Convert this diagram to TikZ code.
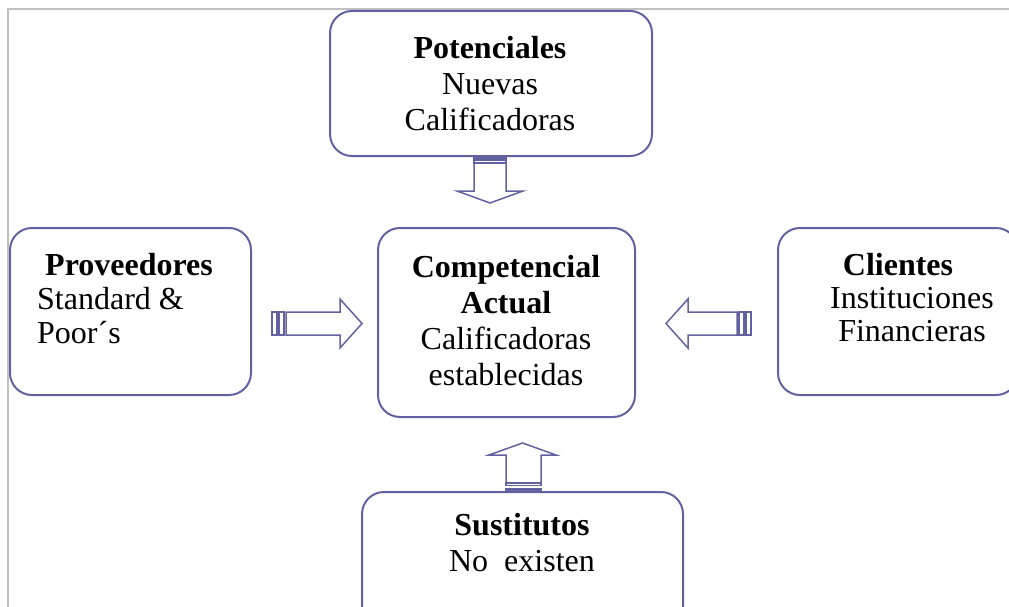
\documentclass[tikz,border=0pt]{standalone}
\usepackage{fontspec}
\setmainfont{Liberation Serif}
\usepackage{tikz}
\definecolor{borde}{RGB}{98,98,162}
\definecolor{marcogris}{RGB}{192,192,192}

\begin{document}
\begin{tikzpicture}[x=1pt, y=-1pt,
  caja/.style = {draw = borde, line width = 2pt, rounded corners = 22pt, inner sep = 0pt},
  texto/.style = {inner sep = 0pt, font = \fontsize{32}{36}\selectfont},
  bloque/.style = {draw = borde, line width = 1.5pt, line join = miter}]
\clip (0,0) rectangle (1009,607);
\draw[marcogris, line width = 2pt] (8,9) rectangle (1040,640);
\node[caja, minimum width = 322pt, minimum height = 145pt] (pot) at (491,83.5) {};
\node[caja, minimum width = 241pt, minimum height = 167pt] (prov) at (130.5,311.5) {};
\node[caja, minimum width = 257pt, minimum height = 189pt] (comp) at (506.5,322.5) {};
\node[caja, minimum width = 240pt, minimum height = 167pt] (cli) at (898,311.5) {};
\node[caja, minimum width = 321pt, minimum height = 148pt] (sus) at (522.5,566) {};
\node[texto, align = center, anchor = north] (potT) at (490,36) {\textbf{Potenciales}\\Nuevas\\Calificadoras};
\node[texto, align = left, anchor = north west, font = \fontsize{32}{34}\selectfont] (provT) at (37,253) {\hspace*{8pt}\textbf{Proveedores}\\Standard \&\\Poor´s};
\node[texto, align = center, anchor = north] (compT) at (506,255) {\textbf{Competencial}\\\textbf{Actual}\\Calificadoras\\establecidas};
\node[texto, align = center, anchor = north, font = \fontsize{32}{33}\selectfont] (cliT) at (912,253) {\textbf{Clientes}\hspace*{28pt}\\Instituciones\\Financieras};
\node[texto, align = center, anchor = north] (susT) at (522,513) {\textbf{Sustitutos}\\No\ \ existen};
\draw[bloque] (272,312) rectangle (277,335);
\draw[bloque] (279,312) rectangle (284,335);
\draw[bloque] (286,312) -- (340,312) -- (340,299) -- (362,323.5) -- (340,348) -- (340,335) -- (286,335) -- cycle;
\draw[bloque] (746,312) rectangle (751,335);
\draw[bloque] (739,312) rectangle (744,335);
\draw[bloque] (737,312) -- (688,312) -- (688,299) -- (666,323.5) -- (688,348) -- (688,335) -- (737,335) -- cycle;
\draw[bloque, fill = borde] (474,156) rectangle (506,159);
\draw[bloque] (474,160.5) rectangle (506,163);
\draw[bloque] (474,163) -- (474,191) -- (457,191) -- (490,203) -- (523,191) -- (506,191) -- (506,163);
\draw[bloque, fill = borde] (506,489) rectangle (541,492);
\draw[bloque] (506,483) rectangle (541,485.5);
\draw[bloque] (506,483) -- (506,455) -- (489,455) -- (522.5,443) -- (556,455) -- (541,455) -- (541,483);
\end{tikzpicture}
\end{document}
